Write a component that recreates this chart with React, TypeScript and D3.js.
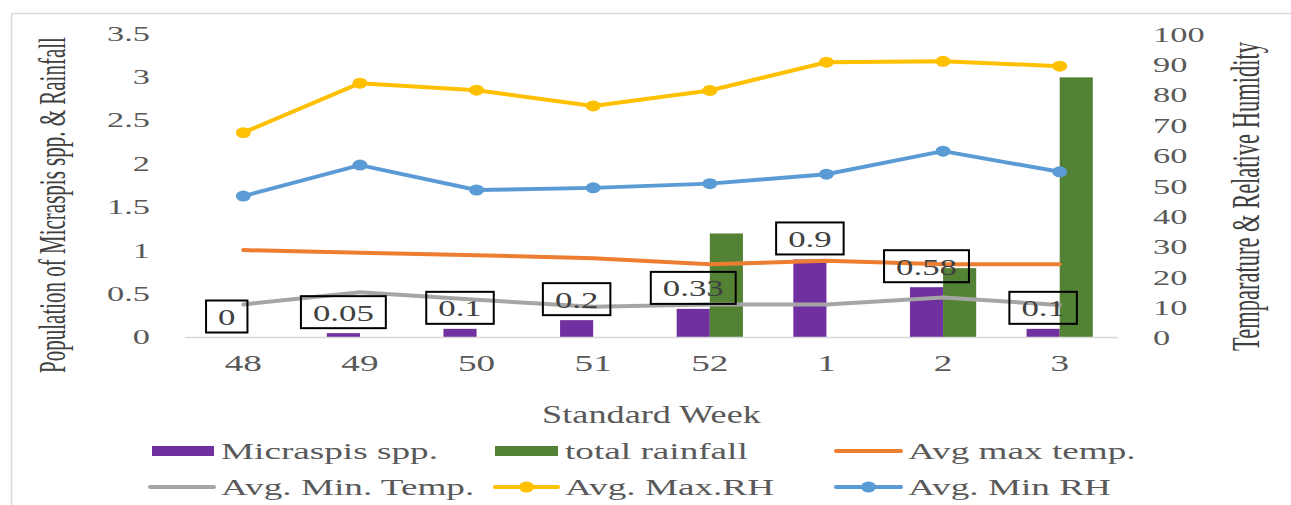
import React from "react";
import * as d3 from "d3";

const weeks = ["48", "49", "50", "51", "52", "1", "2", "3"];
const micraspis = [0, 0.05, 0.1, 0.2, 0.33, 0.9, 0.58, 0.1];
const rainfall = [0, 0, 0, 0, 1.2, 0, 0.8, 3.0];
const maxTemp = [28.8, 27.9, 27.1, 26.1, 24.1, 25.3, 24.1, 24.1];
const minTemp = [10.9, 14.9, 12.4, 10.1, 10.9, 10.9, 13.2, 10.7];
const maxRH = [67.5, 83.8, 81.5, 76.3, 81.4, 90.7, 91.0, 89.4];
const minRH = [46.6, 56.8, 48.6, 49.3, 50.7, 53.8, 61.4, 54.6];
const leftTicks = [0, 0.5, 1, 1.5, 2, 2.5, 3, 3.5];
const rightTicks = [0, 10, 20, 30, 40, 50, 60, 70, 80, 90, 100];

const C = {
  purple: "#7030A0",
  green: "#548235",
  orange: "#ED7D31",
  gray: "#A5A5A5",
  yellow: "#FFC000",
  blue: "#5B9BD5",
  text: "#595959",
};
const FONT = "'Liberation Serif', 'Times New Roman', serif";

type STProps = {
  x: number; y: number; s: number; size: number; anchor?: string;
  fill?: string; rotate?: number; children: React.ReactNode;
};
const SText = ({ x, y, s, size, anchor = "start", fill = C.text, rotate, children }: STProps) => (
  <text
    transform={`translate(${x},${y}) scale(${s},1)${rotate ? ` rotate(${rotate})` : ""}`}
    fontSize={size}
    textAnchor={anchor}
    dominantBaseline="central"
    fill={fill}
    fontFamily={FONT}
  >
    {children}
  </text>
);

export default function App() {
  const W = 1291, H = 505;
  const x = d3.scaleBand<string>().domain(weeks).range([185, 1118]).padding(0);
  const yL = d3.scaleLinear().domain([0, 3.5]).range([337.5, 34]);
  const yR = d3.scaleLinear().domain([0, 100]).range([337.5, 34]);
  const barW = x.bandwidth() * 0.284;
  const cx = (w: string) => (x(w) as number) + x.bandwidth() / 2;

  const lineGen = (vals: number[]) =>
    d3.line<number>().x((_, i) => cx(weeks[i])).y((v) => yR(v))(vals) as string;

  const lines = [
    { vals: maxTemp, color: C.orange, marker: false },
    { vals: minTemp, color: C.gray, marker: false },
    { vals: maxRH, color: C.yellow, marker: true },
    { vals: minRH, color: C.blue, marker: true },
  ];

  const labS = 1.45, labF = 24, pad = 12;
  const textW = (t: string) =>
    t.split("").reduce((a, ch) => a + (ch === "." ? 0.25 : 0.5), 0) * labF * labS;

  const legend = [
    { label: "Micraspis spp.", type: "rect", color: C.purple, x0: 152, x1: 214, y: 451 },
    { label: "total rainfall", type: "rect", color: C.green, x0: 495, x1: 558, y: 451 },
    { label: "Avg max temp.", type: "line", color: C.orange, x0: 836, x1: 901, y: 451 },
    { label: "Avg. Min. Temp.", type: "line", color: C.gray, x0: 150, x1: 214, y: 487 },
    { label: "Avg. Max.RH", type: "marker", color: C.yellow, x0: 495, x1: 558, y: 487 },
    { label: "Avg. Min RH", type: "marker", color: C.blue, x0: 836, x1: 901, y: 487 },
  ];

  return (
    <svg width={W} height={H} style={{ position: "absolute", left: 0, top: 0, background: "#fff" }}>
      <rect x={0} y={0} width={W} height={H} fill="#fff" />
      <rect x={11.5} y={13.5} width={1290} height={500} fill="none" stroke="#d9d9d9" strokeWidth={1.5} />

      {/* bars */}
      {weeks.map((w, i) => (
        <g key={"b" + w}>
          <rect x={cx(w) - barW} y={yL(micraspis[i])} width={barW} height={yL(0) - yL(micraspis[i])} fill={C.purple} />
          <rect x={cx(w)} y={yL(rainfall[i])} width={barW} height={yL(0) - yL(rainfall[i])} fill={C.green} />
        </g>
      ))}

      {/* baseline */}
      <line x1={185} x2={1118} y1={yL(0)} y2={yL(0)} stroke="#d9d9d9" strokeWidth={1.5} />

      {/* lines */}
      {lines.map((l, k) => (
        <g key={"l" + k}>
          <path d={lineGen(l.vals)} fill="none" stroke={l.color} strokeWidth={4} strokeLinejoin="round" strokeLinecap="round" />
          {l.marker && l.vals.map((v, i) => (
            <ellipse key={i} cx={cx(weeks[i])} cy={yR(v)} rx={7.5} ry={5.5} fill={l.color} />
          ))}
        </g>
      ))}

      {/* data labels */}
      {weeks.map((w, i) => {
        const t = String(micraspis[i]);
        const bw = textW(t) + pad * 2;
        const bx = cx(w) - barW / 2;
        const bottom = yL(micraspis[i]) - 5;
        return (
          <g key={"d" + w}>
            <rect x={bx - bw / 2} y={bottom - 32} width={bw} height={32} fill="none" stroke="#000" strokeWidth={2} />
            <SText x={bx} y={bottom - 16} s={labS} size={labF} anchor="middle" fill="#404040">{t}</SText>
          </g>
        );
      })}

      {/* left ticks */}
      {leftTicks.map((v) => (
        <SText key={"lt" + v} x={150} y={yL(v)} s={1.72} size={20} anchor="end">{String(v)}</SText>
      ))}
      {/* right ticks */}
      {rightTicks.map((v) => (
        <SText key={"rt" + v} x={1153} y={yR(v) + 1} s={1.72} size={20} anchor="start">{String(v)}</SText>
      ))}
      {/* x ticks */}
      {weeks.map((w) => (
        <SText key={"xt" + w} x={cx(w)} y={363} s={1.55} size={24} anchor="middle">{w}</SText>
      ))}

      {/* axis titles */}
      <SText x={651.5} y={415} s={1.45} size={25} anchor="middle">Standard Week</SText>
      <SText x={53} y={205} s={1.8} size={21} anchor="middle" rotate={-90} fill="#404040">
        Population of Micraspis spp. &amp; Rainfall
      </SText>
      <SText x={1245} y={196.5} s={1.8} size={22.5} anchor="middle" rotate={-90} fill="#404040">
        Temparature &amp; Relative Humidity
      </SText>

      {/* legend */}
      {legend.map((g) => (
        <g key={g.label}>
          {g.type === "rect" && <rect x={g.x0} y={g.y - 5} width={g.x1 - g.x0} height={10} fill={g.color} />}
          {g.type !== "rect" && (
            <line x1={g.x0} x2={g.x1} y1={g.y} y2={g.y} stroke={g.color} strokeWidth={4} strokeLinecap="round" />
          )}
          {g.type === "marker" && <ellipse cx={(g.x0 + g.x1) / 2} cy={g.y} rx={7.5} ry={5.5} fill={g.color} />}
          <SText x={g.x1 + 7} y={g.y} s={1.55} size={24} anchor="start">{g.label}</SText>
        </g>
      ))}
    </svg>
  );
}
